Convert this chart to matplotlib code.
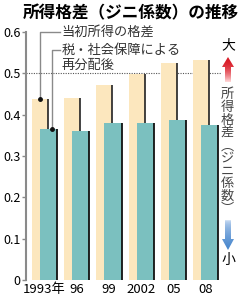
import numpy as np
import matplotlib
matplotlib.use("Agg")
import matplotlib.pyplot as plt
from matplotlib.patches import Polygon

plt.rcParams['font.family'] = ['Noto Sans CJK JP', 'DejaVu Sans']

years = ["1993年", "96", "99", "2002", "05", "08"]
initial = [0.439, 0.441, 0.472, 0.498, 0.526, 0.532]
redistributed = [0.365, 0.361, 0.381, 0.381, 0.387, 0.376]
yticks = [0, 0.1, 0.2, 0.3, 0.4, 0.5, 0.6]
ytick_labels = ["0", "0.1", "0.2", "0.3", "0.4", "0.5", "0.6"]

title = "所得格差（ジニ係数）の推移"
label_initial = "当初所得の格差"
label_redist1 = "税・社会保障による"
label_redist2 = "再分配後"
side_chars = ["所", "得", "格", "差", "︵", "ジ", "ニ", "係", "数", "︶"]

cream = "#FCE7BE"
teal = "#7BC0BF"
grey = "#8a8a8a"

fig = plt.figure(figsize=(2.4, 3.0), dpi=100)
ax = fig.add_axes([26/240, 20/300, 196/240, 248/300])

x = np.arange(len(years))
off_c, w_c = -0.14, 0.50
off_t, w_t = 0.125, 0.53

ax.bar(x + off_c, initial, width=w_c, color=cream, zorder=2, linewidth=0)
ax.vlines(x + off_c + w_c/2, 0, initial, color="#222", lw=1.2, zorder=2.5)
ax.bar(x + off_t, redistributed, width=w_t, color=teal, zorder=3, linewidth=0)
ax.vlines(x + off_t + w_t/2, 0, redistributed, color="#111", lw=1.3, zorder=3.5)

ax.axhline(0.5, xmin=0, xmax=1, color="#555", lw=0.8, ls=(0, (1, 1.2)), zorder=1)

ax.set_ylim(0, 0.6)
ax.set_xlim(-0.575, 5.51)
ax.set_yticks(yticks)
ax.set_yticklabels(ytick_labels, fontsize=9)
ax.set_xticks(x)
ax.set_xticklabels(years, fontsize=9.5)
ax.tick_params(axis='x', length=0, pad=2)
ax.tick_params(axis='y', length=3, width=1, color=grey, pad=1)
for s in ['top', 'right', 'bottom']:
    ax.spines[s].set_visible(False)
ax.spines['left'].set_color(grey)
ax.spines['left'].set_linewidth(1.5)

# leader lines
xl1 = x[0] + off_c
xl2 = x[0] + off_t + 0.11
xt = 0.48
ax.plot([xt, xl1, xl1], [0.6, 0.6, initial[0]], color=grey, lw=1, zorder=4, clip_on=False)
ax.plot([xl1], [initial[0]], 'o', color="#111", ms=2.5, zorder=5, clip_on=False)
ax.plot([xt, xl2, xl2], [0.5565, 0.5565, redistributed[0]], color=grey, lw=1, zorder=4, clip_on=False)
ax.plot([xl2], [redistributed[0]], 'o', color="#111", ms=2.5, zorder=5, clip_on=False)
ax.text(xt + 0.06, 0.6, label_initial, fontsize=9.5, color="#333", va='center', ha='left', zorder=5)
ax.text(xt + 0.06, 0.5565, label_redist1, fontsize=9.5, color="#333", va='center', ha='left', zorder=5)
ax.text(xt + 0.06, 0.520, label_redist2, fontsize=9.5, color="#333", va='center', ha='left', zorder=5)

# overlay in pixel coordinates for decorations
ov = fig.add_axes([0, 0, 1, 1], zorder=10)
ov.patch.set_alpha(0)
ov.axis('off')

fig.text(131/240, 1 - 13/300, title, fontsize=12, fontweight='bold', ha='center', va='center')

cx = 228
fig.text(cx/240, 1 - 45/300, "大", fontsize=10, ha='center', va='center')
fig.text(cx/240, 1 - 260/300, "小", fontsize=10, ha='center', va='center')
fig.text(227/240, 1 - 152/300, "\n".join(side_chars), fontsize=9.5, color="#444",
         ha='center', va='center', linespacing=0.98, multialignment='center')

red_poly = Polygon([(cx, 57), (cx+6, 67), (cx+3, 67), (cx+3, 82), (cx-3, 82), (cx-3, 67), (cx-6, 67)],
                   closed=True, facecolor='none', edgecolor='none')
ov.add_patch(red_poly)
n = 50
t = np.linspace(0, 1, n)[:, None]
top = np.array([0.85, 0.10, 0.15])
bot = np.array([1.0, 0.85, 0.85])
tr = t**2
rg = np.concatenate([top*(1-tr) + bot*tr, np.ones((n, 1))], axis=1)[:, None, :]
ov.imshow(rg, extent=(cx-6, cx+6, 82, 57), aspect='auto', clip_path=red_poly, zorder=11)

blue_poly = Polygon([(cx-3, 220), (cx+3, 220), (cx+3, 239), (cx+6, 239), (cx, 250), (cx-6, 239), (cx-3, 239)],
                    closed=True, facecolor='none', edgecolor='none')
ov.add_patch(blue_poly)
btop = np.array([0.85, 0.90, 0.97])
bbot = np.array([0.27, 0.52, 0.80])
tb = t**0.5
bg = np.concatenate([btop*(1-tb) + bbot*tb, np.ones((n, 1))], axis=1)[:, None, :]
ov.imshow(bg, extent=(cx-6, cx+6, 250, 220), aspect='auto', clip_path=blue_poly, zorder=11)
ov.set_xlim(0, 240)
ov.set_ylim(300, 0)

fig.savefig("out.png", dpi=100)
